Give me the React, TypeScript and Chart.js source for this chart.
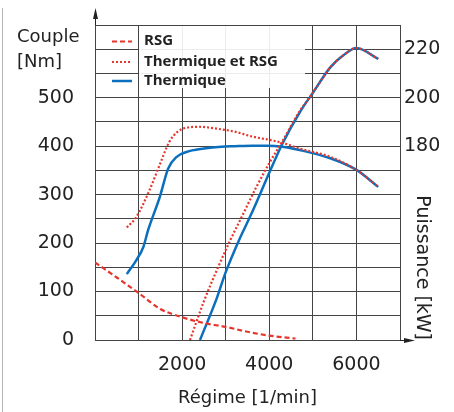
import React, { useEffect, useRef } from "react";
import { Chart, registerables } from "chart.js";

Chart.register(...registerables);

// ---- data ----
const rsgRpm = [0, 500, 1000, 1500, 2000, 2500, 3000, 3500, 4000, 4600];
const rsgTorque = [160, 129, 97, 64, 47, 35, 27, 17, 9, 3];

const hybridTorqueRpm = [730, 950, 1250, 1500, 1700, 1900, 2100, 2400, 2800, 3200, 3600, 4000, 4300, 4700, 5400, 6000, 6500];
const hybridTorque = [232, 254, 309, 365, 408, 430, 438, 440, 436, 430, 420, 413, 407, 395, 378, 351, 316];

const thermTorqueRpm = [730, 950, 1110, 1220, 1490, 1680, 1875, 2100, 2500, 2900, 3200, 3600, 3950, 4300, 4700, 5400, 6000, 6500];
const thermTorque = [136, 165, 192, 227, 296, 354, 378, 388, 395, 399, 400, 401, 401, 399, 392, 375, 351, 316];

const hybridPowerRpm = [2180, 2500, 2800, 3100, 3400, 3700, 4000, 4300, 4700, 5000, 5400, 5700, 6000, 6500];
const hybridPower = [100, 116, 129, 141, 152, 163, 173, 182, 194.5, 202, 212.5, 217.5, 220.5, 216];

const thermPowerRpm = [2410, 2800, 3000, 3300, 3600, 4000, 4300, 4700, 5000, 5400, 5700, 6000, 6500];
const thermPower = [100, 117.5, 128, 141, 152.5, 169, 181, 194, 202, 212.5, 217.5, 220.5, 216];

const xTickLabels = [2000, 4000, 6000];
const torqueTickLabels = [0, 100, 200, 300, 400, 500];
const powerTickLabels = [180, 200, 220];
const legendLabels = ["RSG", "Thermique et RSG", "Thermique"];
const torqueTitle = ["Couple", "[Nm]"];
const xTitle = "Régime [1/min]";
const powerTitle = "Puissance [kW]";

const RED = "#e5352c";
const BLUE = "#0b6fbd";
const TEXT = "#222222";
const GRID = "#444444";
const FONT = "'DejaVu Sans', sans-serif";

const pts = (xs: number[], ys: number[]) => xs.map((x, i) => ({ x, y: ys[i] }));

const decorPlugin = {
  id: "decor",
  afterDraw(chart: any) {
    const ctx = chart.ctx as CanvasRenderingContext2D;
    const { left, top, bottom, right } = chart.chartArea;
    ctx.save();
    // page border line on the far left
    ctx.strokeStyle = "#b5b5b5";
    ctx.lineWidth = 1;
    ctx.beginPath();
    ctx.moveTo(2.5, 8);
    ctx.lineTo(2.5, 412);
    ctx.stroke();

    // axis arrows
    ctx.strokeStyle = TEXT;
    ctx.fillStyle = TEXT;
    const lx = Math.round(left) + 0.5;
    ctx.beginPath();
    ctx.moveTo(lx, top);
    ctx.lineTo(lx, top - 10);
    ctx.stroke();
    ctx.beginPath();
    ctx.moveTo(lx, top - 17);
    ctx.lineTo(lx - 2.5, top - 6);
    ctx.lineTo(lx + 2.5, top - 6);
    ctx.closePath();
    ctx.fill();
    const by = Math.round(bottom) + 0.5;
    ctx.beginPath();
    ctx.moveTo(right, by);
    ctx.lineTo(right + 8, by);
    ctx.stroke();
    ctx.beginPath();
    ctx.moveTo(right + 15, by);
    ctx.lineTo(right + 4, by - 2.5);
    ctx.lineTo(right + 4, by + 2.5);
    ctx.closePath();
    ctx.fill();

    // left axis caption
    ctx.font = `18px ${FONT}`;
    ctx.textAlign = "left";
    ctx.textBaseline = "alphabetic";
    ctx.fillText(torqueTitle[0], 17, 42);
    ctx.fillText(torqueTitle[1], 17, 67);

    // legend inside the plot
    ctx.fillStyle = "rgba(255,255,255,0.9)";
    ctx.fillRect(139, 26, 166, 62);
    const rows = [45, 65.5, 85];
    const symY = [41.5, 62, 81];
    const styles = [
      { color: RED, dash: [5, 3], width: 2 },
      { color: RED, dash: [2, 2], width: 2 },
      { color: BLUE, dash: [], width: 2.5 },
    ];
    styles.forEach((s, i) => {
      ctx.strokeStyle = s.color;
      ctx.lineWidth = s.width;
      ctx.setLineDash(s.dash);
      ctx.beginPath();
      ctx.moveTo(112, symY[i]);
      ctx.lineTo(132, symY[i]);
      ctx.stroke();
    });
    ctx.setLineDash([]);
    ctx.fillStyle = TEXT;
    ctx.font = `bold 15px 'Open Sans', sans-serif`;
    legendLabels.forEach((t, i) => ctx.fillText(t, 144, rows[i]));
    ctx.restore();
  },
};

export default function App() {
  const ref = useRef<HTMLCanvasElement>(null);
  useEffect(() => {
    const chart = new Chart(ref.current as HTMLCanvasElement, {
      type: "line",
      data: {
        datasets: [
          {
            label: legendLabels[0],
            data: pts(rsgRpm, rsgTorque),
            borderColor: RED,
            borderWidth: 2.2,
            borderDash: [5, 3],
            yAxisID: "y",
          },
          {
            label: legendLabels[1],
            data: pts(hybridTorqueRpm, hybridTorque),
            borderColor: RED,
            borderWidth: 2.2,
            borderDash: [2, 2],
            yAxisID: "y",
          },
          {
            label: legendLabels[1] + " (puissance)",
            data: pts(hybridPowerRpm, hybridPower),
            borderColor: RED,
            borderWidth: 2.2,
            borderDash: [2, 2],
            yAxisID: "y1",
          },
          {
            label: legendLabels[2],
            data: pts(thermTorqueRpm, thermTorque),
            borderColor: BLUE,
            borderWidth: 2.5,
            yAxisID: "y",
          },
          {
            label: legendLabels[2] + " (puissance)",
            data: pts(thermPowerRpm, thermPower),
            borderColor: BLUE,
            borderWidth: 2.5,
            yAxisID: "y1",
          },
        ] as any,
      },
      options: {
        animation: false,
        responsive: false,
        elements: {
          point: { radius: 0 },
          line: { cubicInterpolationMode: "monotone", fill: false, borderCapStyle: "butt" },
        },
        layout: { padding: { top: 25, left: 0, right: 0, bottom: 0 } },
        plugins: { legend: { display: false }, tooltip: { enabled: false } },
        scales: {
          x: {
            type: "linear",
            position: "bottom",
            min: 0,
            max: 7000,
            grid: { color: GRID, drawTicks: false },
            border: { color: GRID },
            ticks: {
              stepSize: 1000,
              autoSkip: false,
              maxRotation: 0,
              padding: 14,
              color: TEXT,
              font: { family: FONT, size: 19 },
              callback: (v: any) => (xTickLabels.includes(Number(v)) ? String(v) : ""),
            },
            title: {
              display: true,
              text: xTitle,
              color: TEXT,
              font: { family: FONT, size: 18 },
              padding: { top: 0, bottom: 3 },
            },
            afterFit: (s: any) => {
              s.height = 72;
            },
          },
          y: {
            type: "linear",
            position: "left",
            min: 0,
            max: 650,
            grid: { color: GRID, drawTicks: true, tickLength: 21, tickColor: "rgba(0,0,0,0)" },
            border: { color: GRID },
            ticks: {
              stepSize: 50,
              autoSkip: false,
              padding: 0,
              color: TEXT,
              font: { family: FONT, size: 19 },
              callback: (v: any) => (torqueTickLabels.includes(Number(v)) ? String(v) : ""),
            },
            afterFit: (s: any) => {
              s.width = 95;
            },
          },
          y1: {
            type: "linear",
            position: "right",
            min: 100,
            max: 230,
            grid: { display: false, drawTicks: false },
            border: { color: GRID },
            ticks: {
              stepSize: 10,
              autoSkip: false,
              padding: 4,
              color: TEXT,
              font: { family: FONT, size: 19 },
              callback: (v: any) => (powerTickLabels.includes(Number(v)) ? String(v) : ""),
            },
            title: {
              display: true,
              text: powerTitle,
              align: "start",
              color: TEXT,
              font: { family: FONT, size: 19 },
              padding: { top: 21, bottom: 0 },
            },
            afterFit: (s: any) => {
              s.width = 54;
            },
          },
        },
      } as any,
      plugins: [decorPlugin],
    });
    return () => chart.destroy();
  }, []);
  return (
    <div style={{ position: "fixed", left: 0, top: 0, width: 454, height: 412, background: "#fff" }}>
      <canvas ref={ref} width={454} height={412} style={{ display: "block", width: 454, height: 412 }} />
    </div>
  );
}
